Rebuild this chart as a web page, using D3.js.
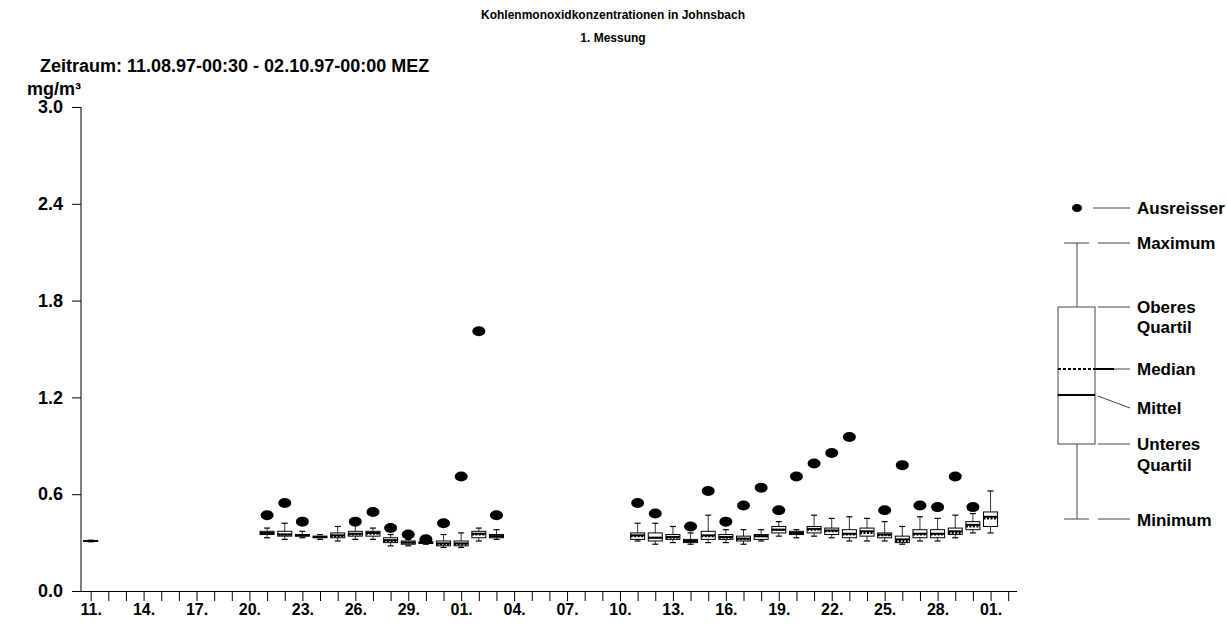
<!DOCTYPE html>
<html>
<head>
<meta charset="utf-8">
<script src="https://cdn.jsdelivr.net/npm/d3@7"></script>
<style>
  body { margin: 0; background: #fff; }
  text { font-family: "Liberation Sans", Arial, sans-serif; font-weight: bold; fill: #000; }
</style>
</head>
<body>
<svg id="chart" width="1227" height="630"></svg>
<script>
// Daily CO statistics (mg/m³), Johnsbach, 1st measurement campaign
const days = [
  "1997-08-11",
  "1997-08-21","1997-08-22","1997-08-23","1997-08-24","1997-08-25","1997-08-26","1997-08-27",
  "1997-08-28","1997-08-29","1997-08-30","1997-08-31","1997-09-01","1997-09-02","1997-09-03",
  "1997-09-11","1997-09-12","1997-09-13","1997-09-14","1997-09-15","1997-09-16","1997-09-17",
  "1997-09-18","1997-09-19","1997-09-20","1997-09-21","1997-09-22","1997-09-23","1997-09-24",
  "1997-09-25","1997-09-26","1997-09-27","1997-09-28","1997-09-29","1997-09-30","1997-10-01"
];
const minimum = [0.305,
  0.33,0.32,0.33,0.32,0.31,0.32,0.32,0.28,0.28,0.29,0.27,0.27,0.31,0.32,
  0.31,0.29,0.30,0.29,0.30,0.30,0.29,0.31,0.34,0.33,0.34,0.33,0.31,0.31,0.31,0.29,0.31,0.31,0.33,0.36,0.36];
const lowerQuartile = [0.307,
  0.35,0.34,0.34,0.33,0.33,0.34,0.34,0.30,0.29,0.295,0.28,0.28,0.33,0.33,
  0.32,0.31,0.32,0.30,0.32,0.32,0.31,0.32,0.36,0.35,0.36,0.35,0.33,0.34,0.33,0.30,0.33,0.33,0.35,0.38,0.40];
const median = [0.31,
  0.36,0.35,0.345,0.335,0.34,0.35,0.355,0.31,0.30,0.30,0.29,0.29,0.35,0.34,
  0.34,0.33,0.33,0.31,0.34,0.33,0.32,0.34,0.38,0.36,0.38,0.37,0.35,0.36,0.345,0.31,0.35,0.35,0.36,0.40,0.45];
const mean = [0.31,
  0.36,0.35,0.345,0.335,0.345,0.355,0.36,0.315,0.30,0.30,0.295,0.295,0.355,0.34,
  0.345,0.33,0.335,0.31,0.345,0.335,0.325,0.34,0.38,0.36,0.385,0.375,0.355,0.37,0.35,0.32,0.355,0.355,0.37,0.41,0.46];
const upperQuartile = [0.313,
  0.37,0.37,0.35,0.34,0.36,0.37,0.37,0.33,0.31,0.305,0.31,0.31,0.37,0.35,
  0.36,0.36,0.35,0.32,0.37,0.35,0.34,0.35,0.40,0.37,0.40,0.39,0.38,0.39,0.36,0.34,0.38,0.38,0.39,0.43,0.49];
const maximum = [0.315,
  0.39,0.42,0.37,0.35,0.40,0.41,0.39,0.35,0.32,0.31,0.35,0.36,0.39,0.38,
  0.42,0.42,0.40,0.36,0.47,0.38,0.38,0.38,0.43,0.38,0.47,0.45,0.46,0.45,0.43,0.40,0.46,0.45,0.47,0.48,0.62];
const outlier = [null,
  0.47,0.545,0.43,null,null,0.43,0.49,0.39,0.35,0.32,0.42,0.71,1.61,0.47,
  0.545,0.48,null,0.40,0.62,0.43,0.53,0.64,0.50,0.71,0.79,0.855,0.955,null,0.50,0.78,0.53,0.52,0.71,0.52,null];

const yTicks = [0.0, 0.6, 1.2, 1.8, 2.4, 3.0];
const legendItems = ["Ausreisser", "Maximum", "Oberes", "Quartil", "Median", "Mittel", "Unteres", "Quartil", "Minimum"];

const parse = d3.timeParse("%Y-%m-%d");
const rows = days.map((d, i) => ({
  date: parse(d), min: minimum[i], q1: lowerQuartile[i], med: median[i],
  mean: mean[i], q3: upperQuartile[i], max: maximum[i], out: outlier[i]
}));

const svg = d3.select("#chart");

const x = d3.scaleTime()
  .domain([parse("1997-08-10"), d3.timeHour.offset(parse("1997-10-02"), 12)])
  .range([73, 1017]);
const y = d3.scaleLinear().domain([0, 3]).range([591, 107]);

// titles
svg.append("text").attr("x", 613).attr("y", 19).attr("text-anchor", "middle")
  .style("font-size", "12px").text("Kohlenmonoxidkonzentrationen in Johnsbach");
svg.append("text").attr("x", 613).attr("y", 42).attr("text-anchor", "middle")
  .style("font-size", "12px").text("1. Messung");
svg.append("text").attr("x", 40).attr("y", 72)
  .style("font-size", "18px").text("Zeitraum: 11.08.97-00:30 - 02.10.97-00:00 MEZ");
svg.append("text").attr("x", 27).attr("y", 95)
  .style("font-size", "18px").text("mg/m³");

// y axis
const yAxis = svg.append("g").attr("transform", "translate(81,0)")
  .call(d3.axisLeft(y).tickValues(yTicks).tickFormat(d3.format(".1f")).tickSize(9).tickPadding(9));
yAxis.select(".domain").attr("d", `M0,${y(3)}V${y(0)}`);
yAxis.selectAll("text").style("font-size", "18px");

// x axis with one tick per day, label every third day
const tickDays = d3.timeDay.range(parse("1997-08-11"), d3.timeDay.offset(parse("1997-10-02"), 1));
const xAxis = svg.append("g").attr("transform", `translate(0,${y(0)})`)
  .call(d3.axisBottom(x).tickValues(tickDays)
    .tickFormat((d, i) => i % 3 === 0 ? d3.timeFormat("%d.")(d) : "")
    .tickSize(10).tickPadding(3));
xAxis.select(".domain").attr("d", `M${x.range()[0]},0.5H${x.range()[1]}`);
xAxis.selectAll("text").style("font-size", "16px");
svg.selectAll(".domain, .tick line").attr("stroke", "#000");

// box plots
const bw = 7, cap = 3;
const g = svg.append("g");
const box = g.selectAll("g.box").data(rows).join("g").attr("class", "box")
  .attr("transform", d => `translate(${x(d.date)},0)`);

box.append("line").attr("y1", d => y(d.min)).attr("y2", d => y(d.max))
  .attr("stroke", "#333").attr("stroke-width", 1);
box.append("line").attr("x1", -cap).attr("x2", cap).attr("y1", d => y(d.max)).attr("y2", d => y(d.max))
  .attr("stroke", "#000").attr("stroke-width", 1.2);
box.append("line").attr("x1", -cap).attr("x2", cap).attr("y1", d => y(d.min)).attr("y2", d => y(d.min))
  .attr("stroke", "#000").attr("stroke-width", 1.2);
box.append("rect").attr("x", -bw).attr("width", 2 * bw)
  .attr("y", d => y(d.q3)).attr("height", d => Math.max(1, y(d.q1) - y(d.q3)))
  .attr("fill", "#fff").attr("stroke", "#000").attr("stroke-width", 1);
box.append("line").attr("x1", -bw).attr("x2", bw).attr("y1", d => y(d.mean)).attr("y2", d => y(d.mean))
  .attr("stroke", "#000").attr("stroke-width", 2);
box.append("line").attr("x1", -bw).attr("x2", bw).attr("y1", d => y(d.med)).attr("y2", d => y(d.med))
  .attr("stroke", "#000").attr("stroke-width", 2).attr("stroke-dasharray", "2,1.5");
box.filter(d => d.out != null).append("ellipse")
  .attr("cy", d => y(d.out)).attr("rx", 6.5).attr("ry", 5).attr("fill", "#000");

// legend: schematic box plot with explanations
const lg = svg.append("g");
const lx = 1077, bl = 1058, br = 1095, px1 = 1098, px2 = 1130, tx = 1137;
const grey = "#444";
lg.append("ellipse").attr("cx", lx).attr("cy", 208).attr("rx", 5).attr("ry", 4).attr("fill", "#000");
lg.append("line").attr("x1", lx).attr("x2", lx).attr("y1", 243).attr("y2", 519).attr("stroke", grey);
lg.append("line").attr("x1", 1064).attr("x2", 1089).attr("y1", 243).attr("y2", 243).attr("stroke", grey);
lg.append("line").attr("x1", 1064).attr("x2", 1089).attr("y1", 519).attr("y2", 519).attr("stroke", grey);
lg.append("rect").attr("x", bl).attr("y", 307).attr("width", br - bl).attr("height", 444 - 307)
  .attr("fill", "#fff").attr("stroke", grey);
lg.append("line").attr("x1", bl).attr("x2", br).attr("y1", 369).attr("y2", 369)
  .attr("stroke", "#000").attr("stroke-width", 2).attr("stroke-dasharray", "3,2");
lg.append("line").attr("x1", br).attr("x2", 1114).attr("y1", 369).attr("y2", 369)
  .attr("stroke", "#000").attr("stroke-width", 2);
lg.append("line").attr("x1", bl).attr("x2", br).attr("y1", 395).attr("y2", 395)
  .attr("stroke", "#000").attr("stroke-width", 2);
[[208, 1093], [243, px1], [307, px1], [369, 1114], [444, px1], [519, px1]].forEach(([yy, xs]) =>
  lg.append("line").attr("x1", xs).attr("x2", px2).attr("y1", yy).attr("y2", yy).attr("stroke", grey));
lg.append("line").attr("x1", px1).attr("x2", px2).attr("y1", 396).attr("y2", 408).attr("stroke", grey);

const labelY = [208, 243, 307, 327, 369, 408, 444, 465, 520];
lg.selectAll("text.leg").data(legendItems).join("text").attr("class", "leg")
  .attr("x", tx).attr("y", (d, i) => labelY[i]).attr("dy", "0.36em")
  .style("font-size", "17px").text(d => d);
</script>
</body>
</html>
